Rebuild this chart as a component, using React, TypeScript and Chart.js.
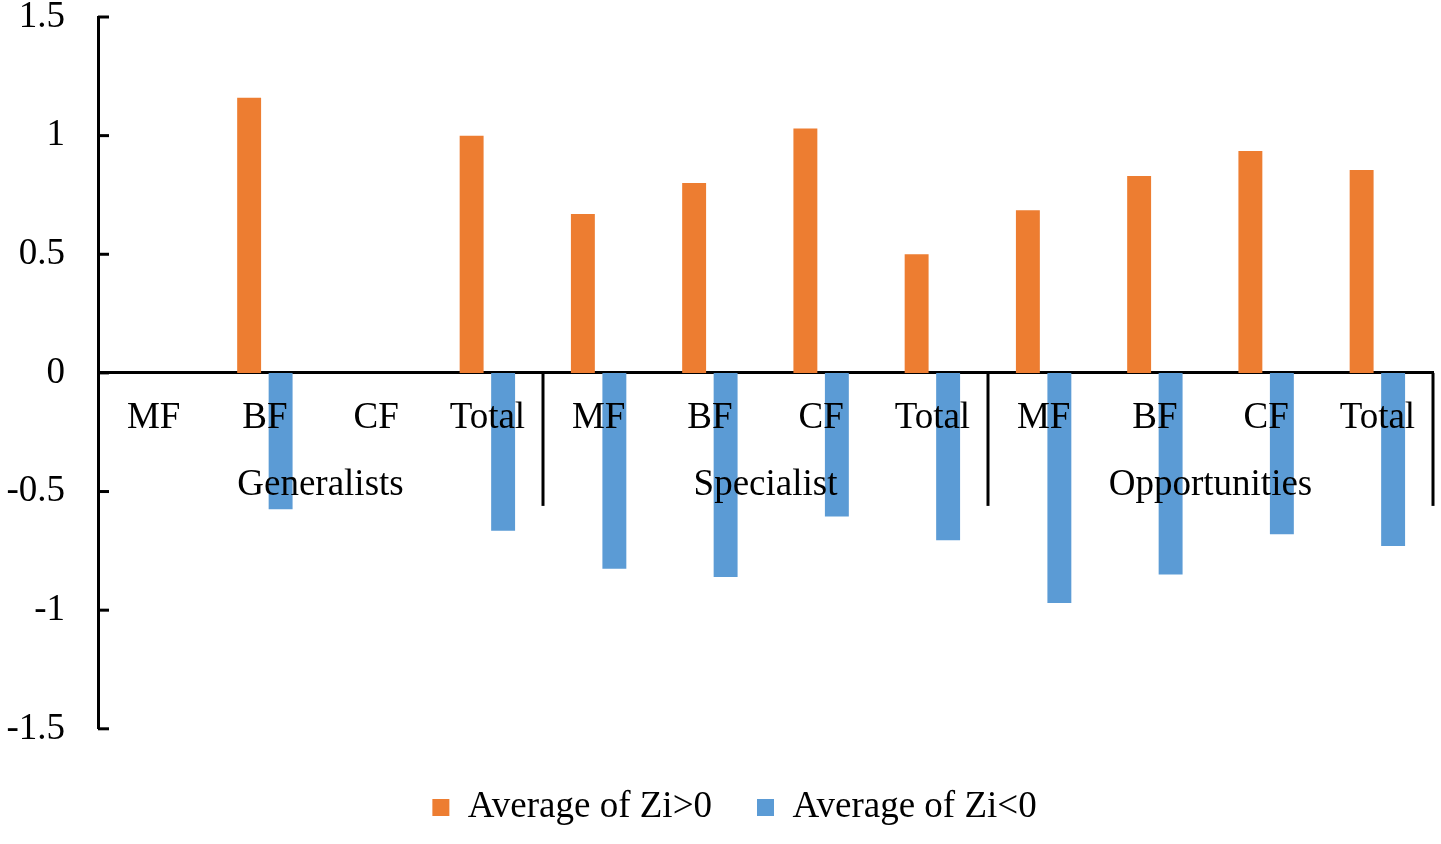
import { useEffect, useRef } from 'react';
import { Chart, registerables } from 'chart.js';

Chart.register(...registerables);

const categories = ['MF', 'BF', 'CF', 'Total', 'MF', 'BF', 'CF', 'Total', 'MF', 'BF', 'CF', 'Total'];
const groups = ['Generalists', 'Specialist', 'Opportunities'];
const groupSize = 4;
const positiveAvg = [0, 1.16, 0, 1.0, 0.67, 0.8, 1.03, 0.5, 0.685, 0.83, 0.935, 0.855];
const negativeAvg = [0, -0.575, 0, -0.665, -0.825, -0.86, -0.605, -0.705, -0.97, -0.85, -0.68, -0.73];
const yTicks = [-1.5, -1, -0.5, 0, 0.5, 1, 1.5];
const seriesNames = ['Average of Zi>0', 'Average of Zi<0'];

const FONT = '"Liberation Serif", "Times New Roman", serif';
const FS = 37;

const decorPlugin = {
  id: 'decor',
  afterLayout(chart: any) {
    const lg = chart.legend;
    if (lg) {
      lg.left += 18;
      lg.right += 18;
    }
  },
  afterDatasetsDraw(chart: any) {
    const { ctx, scales, chartArea } = chart;
    const x = scales.x;
    const y = scales.y;
    const zero = y.getPixelForValue(0);
    const step = x.getPixelForValue(1) - x.getPixelForValue(0);
    ctx.save();
    ctx.strokeStyle = '#000';
    ctx.lineWidth = 3;
    ctx.lineCap = 'butt';
    yTicks.forEach((v) => {
      const py = y.getPixelForValue(v);
      ctx.beginPath();
      ctx.moveTo(chartArea.left, py);
      ctx.lineTo(chartArea.left + 11, py);
      ctx.stroke();
    });
    groups.forEach((g, gi) => {
      const last = (gi + 1) * groupSize - 1;
      const px = x.getPixelForValue(last) + step / 2;
      ctx.beginPath();
      ctx.moveTo(px, zero);
      ctx.lineTo(px, zero + 133);
      ctx.stroke();
      const cx = (x.getPixelForValue(gi * groupSize) + x.getPixelForValue(last)) / 2;
      ctx.fillStyle = '#000';
      ctx.font = `${FS}px ${FONT}`;
      ctx.textAlign = 'center';
      ctx.textBaseline = 'middle';
      ctx.fillText(g, cx, zero + 112);
    });
    ctx.restore();
  },
};

export default function App() {
  const ref = useRef<HTMLCanvasElement | null>(null);
  useEffect(() => {
    if (!ref.current) return;
    const chart = new Chart(ref.current, {
      type: 'bar',
      data: {
        labels: categories,
        datasets: [
          {
            label: seriesNames[0],
            data: positiveAvg,
            backgroundColor: '#ED7D31',
            categoryPercentage: 0.566,
            barPercentage: 0.76,
          },
          {
            label: seriesNames[1],
            data: negativeAvg,
            backgroundColor: '#5B9BD5',
            categoryPercentage: 0.566,
            barPercentage: 0.76,
          },
        ],
      },
      options: {
        responsive: true,
        maintainAspectRatio: false,
        animation: false,
        layout: { padding: { left: 0, right: 8, top: 0, bottom: 8 } },
        plugins: {
          tooltip: { enabled: false },
          legend: {
            position: 'bottom',
            title: {
              display: true,
              text: '',
              font: { size: 1 },
              padding: { top: 0, bottom: 14 },
            },
            labels: {
              boxWidth: 17,
              boxHeight: 17,
              padding: 45,
              color: '#000',
              font: { family: FONT, size: FS },
            },
          },
        },
        scales: {
          x: {
            position: { y: 0 } as any,
            grid: { display: false, drawTicks: false },
            border: { display: true, color: '#000', width: 3 },
            ticks: {
              z: 1,
              color: '#000',
              font: { family: FONT, size: FS },
              padding: 23,
              maxRotation: 0,
              autoSkip: false,
            },
          },
          y: {
            min: -1.5,
            max: 1.5,
            afterFit: (scale: any) => {
              scale.width = 98;
              scale.paddingTop = 17;
              scale.paddingBottom = 0;
            },
            grid: { display: false, drawTicks: false },
            border: { display: true, color: '#000', width: 3 },
            ticks: {
              stepSize: 0.5,
              padding: 33,
              color: '#000',
              font: { family: FONT, size: FS },
              callback: (v: any) => String(v),
            },
          },
        },
      },
      plugins: [decorPlugin],
    });
    return () => chart.destroy();
  }, []);
  return (
    <div style={{ position: 'fixed', left: 0, top: 0, width: 1441, height: 844, background: '#fff' }}>
      <canvas ref={ref} />
    </div>
  );
}
